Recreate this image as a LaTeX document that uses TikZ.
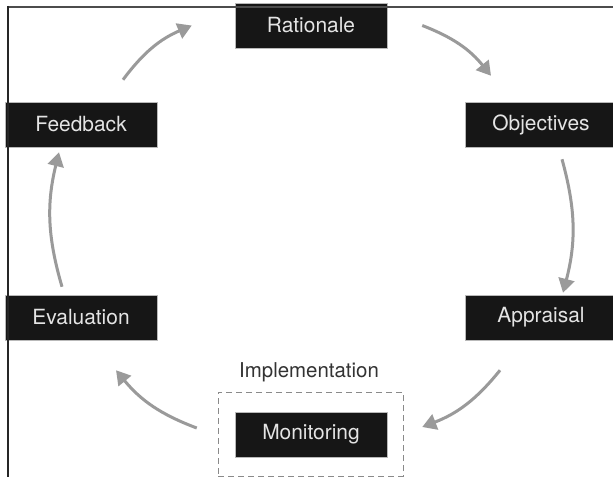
\documentclass[tikz,border=0pt]{standalone}
\usepackage{fontspec}
\setmainfont{TeX Gyre Heros}
\usetikzlibrary{arrows.meta,calc}
\definecolor{boxfill}{HTML}{161616}
\definecolor{boxtext}{HTML}{E4E4E4}
\definecolor{arrowgray}{HTML}{9A9A9A}
\definecolor{labeltext}{HTML}{333333}
\definecolor{dashgray}{HTML}{8A8A8A}
\tikzset{
  stagebox/.style={rectangle, fill=boxfill, draw=gray!55, line width=0.5bp,
    minimum width=152bp, minimum height=45bp, inner sep=0pt,
    text=boxtext, font=\fontsize{21}{25}\selectfont},
  cyclearrow/.style={draw=arrowgray, line width=3bp,
    -{Triangle[length=14bp,width=16bp]}},
  groupbox/.style={rectangle, draw=dashgray, line width=0.9bp,
    dash pattern=on 6bp off 4bp, inner sep=0pt},
  grouplabel/.style={text=labeltext, font=\fontsize{20.5}{24}\selectfont, inner sep=0pt}
}
\begin{document}
\begin{tikzpicture}[x=1bp,y=-1bp]
\useasboundingbox (0,0) rectangle (613,477);
\clip (0,0) rectangle (613,477);
\fill[white] (0,0) rectangle (613,477);
% group box
\node[groupbox, minimum width=185bp, minimum height=84bp] (grp) at (310.5,434) {};
\node[grouplabel] (impl) at (309,372) {Implementation};
% stages
\node[stagebox] (ra) at (311,25.5) {Rationale};
\node[stagebox] (ob) at (541,124.5) {Objectives};
\node[stagebox] (ap) at (541,317.5) {Appraisal};
\node[stagebox] (mo) at (311,434.5) {Monitoring};
\node[stagebox] (ev) at (81,317.5) {Evaluation};
\node[stagebox] (fb) at (81,124.5) {Feedback};
% connectors
\draw[cyclearrow] ($(fb.north)+(42,-22)$) to[bend left=15] ($(ra.west)+(-43,0)$);
\draw[cyclearrow] ($(ra.east)+(35,0)$) to[bend left=15] ($(ob.north)+(-50,-26)$);
\draw[cyclearrow] ($(ob.south)+(21,12)$) to[bend left=15] ($(ap.north)+(22,-2)$);
\draw[cyclearrow] ($(ap.south)+(-41,30)$) to[bend left=15] ($(mo.east)+(35,-7.5)$);
\draw[cyclearrow] ($(mo.west)+(-38,-6.5)$) to[bend left=15] ($(ev.south)+(35,30)$);
\draw[cyclearrow] ($(ev.north)+(-19,-8)$) to[bend left=15] ($(fb.south)+(-22,5)$);
% frame
\draw[draw=black!70, line width=2.2bp] (8,7) -- (613,7);
\draw[draw=black!85, line width=1.6bp] (8,6) -- (8,477);
\end{tikzpicture}
\end{document}
